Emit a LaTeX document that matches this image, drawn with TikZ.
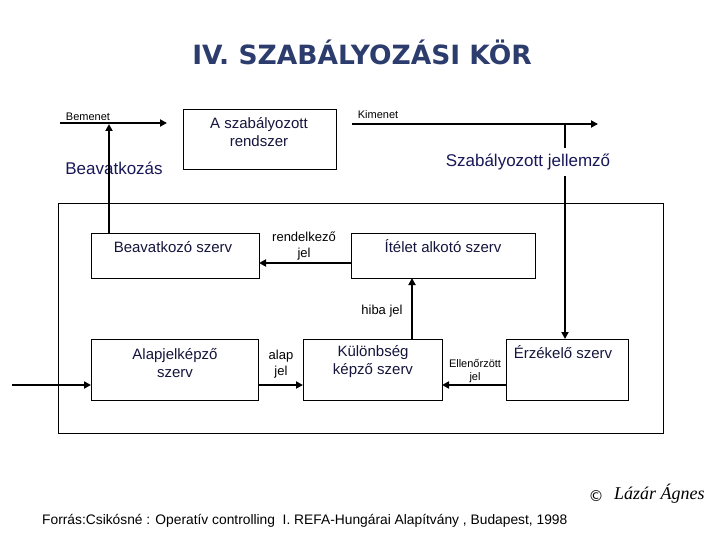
\documentclass[tikz,border=0pt]{standalone}
\usepackage{fontspec}
\setmainfont{Liberation Sans}
\newfontfamily\titlefont{DejaVu Sans}
\newfontfamily\sigfont{Liberation Serif}
\usetikzlibrary{arrows.meta,calc}
\definecolor{titleblue}{RGB}{44,60,108}
\definecolor{navy}{RGB}{24,24,88}
\definecolor{boxtext}{RGB}{20,20,60}
\begin{document}
\begin{tikzpicture}[x=1pt,y=-1pt,
  blk/.style={draw,line width=0.8pt,inner sep=0pt,outer sep=0pt,anchor=north west},
  conn/.style={line width=2.6pt,-{Triangle[length=7pt,width=7pt]}},
  btxt/.style={text=boxtext,font=\fontsize{15}{18}\selectfont,align=center,inner sep=0pt},
  small/.style={font=\fontsize{11}{13}\selectfont,inner sep=0pt,align=center},
  mid/.style={font=\fontsize{13}{16}\selectfont,inner sep=0pt,align=center},
  big/.style={text=navy,font=\fontsize{17}{20}\selectfont,inner sep=0pt}]
\useasboundingbox (0,0) rectangle (720,540);
% title
\node[text=titleblue,font=\titlefont\bfseries\fontsize{26.5}{30}\selectfont] (title) at (362,52) {IV. SZABÁLYOZÁSI KÖR};
% boxes
\node[blk,minimum width=605pt,minimum height=230pt] (outer) at (58,203) {};
\node[blk,minimum width=153pt,minimum height=60pt] (sys) at (183,109) {};
\node[blk,minimum width=168pt,minimum height=45pt] (beav) at (91,233) {};
\node[blk,minimum width=184pt,minimum height=45pt] (itel) at (351,233) {};
\node[blk,minimum width=167pt,minimum height=61pt] (alap) at (91,339) {};
\node[blk,minimum width=139pt,minimum height=61pt] (kul) at (303,339) {};
\node[blk,minimum width=122pt,minimum height=61pt] (erz) at (506,339) {};
% box texts
\node[btxt] (tsys) at (259,132) {A szabályozott\\rendszer};
\node[btxt] (tbeav) at (173,247) {Beavatkozó szerv};
\node[btxt] (titel) at (443,246) {Ítélet alkotó szerv};
\node[btxt] (talap) at (175,363) {Alapjelképző\\szerv};
\node[btxt] (tkul) at (373,362) {Különbség\\képző szerv};
\node[btxt] (terz) at (563,352) {Érzékelő szerv};
% coordinates
\coordinate (bin) at (60,123);
\coordinate (bend) at (167,123);
\coordinate (bv) at (109,124);
\coordinate (kin) at (352,124);
\coordinate (kend) at (598,124);
\coordinate (sj) at (565,124);
\coordinate (ry) at (0,263);
\coordinate (hx) at (412,0);
\coordinate (iny) at (12,385);
% connectors
\draw[conn] (bin) -- (bend);
\draw[conn] (kin) -- (kend);
\draw[conn] (beav.north -| bv) -- (bv);
\draw[conn] (sj) -- (sj |- erz.north);
\draw[conn] (itel.west |- ry) -- (beav.east |- ry);
\draw[conn] (kul.north -| hx) -- (itel.south -| hx);
\draw[conn] (iny) -- (alap.west |- iny);
\draw[conn] (alap.east |- iny) -- (kul.west |- iny);
\draw[conn] (erz.west |- iny) -- (kul.east |- iny);
% labels
\node[small] (lbem) at (88,117) {Bemenet};
\node[small] (lkim) at (378,115) {Kimenet};
\node[big] (lbeavk) at (114,168) {Beavatkozás};
\draw[line width=2.6pt] (109,160) -- (109,178);
\node[big,fill=white,inner ysep=6pt,inner xsep=2pt] (lszj) at (528,162) {Szabályozott jellemző};
\node[mid] (lrend) at (304,246) {rendelkező\\jel};
\node[mid] (lhiba) at (382,311) {hiba jel};
\node[mid] (lalap) at (281,364) {alap\\jel};
\node[small] (lell) at (475,371) {Ellenőrzött\\jel};
% footer
\node[font=\fontsize{13.8}{16}\selectfont,anchor=west,inner sep=0pt] (src) at (42,521) {Forrás:Csikósné : Operatív controlling \ I. REFA-Hungárai Alapítvány , Budapest, 1998};
\node[font=\titlefont\fontsize{15}{17}\selectfont,inner sep=0pt] (copy) at (596,496) {©};
\node[font=\sigfont\itshape\fontsize{18}{20}\selectfont,inner sep=0pt,anchor=west] (sig) at (614,494) {Lázár Ágnes};
\end{tikzpicture}
\end{document}
